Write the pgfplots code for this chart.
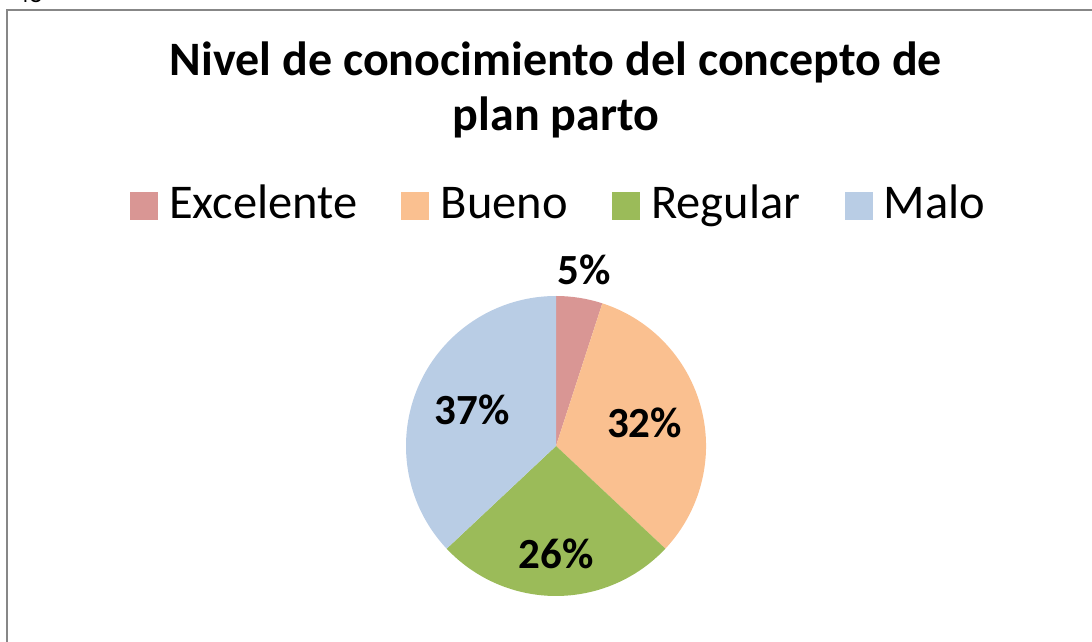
\documentclass[border=0pt]{standalone}
\usepackage{fontspec}
\setmainfont{Carlito}
\usepackage{pgfplots}
\usepackage{pgfplotstable}
\pgfplotsset{compat=1.18}

\definecolor{cExc}{HTML}{D99694}
\definecolor{cBue}{HTML}{FAC090}
\definecolor{cReg}{HTML}{9BBB59}
\definecolor{cMal}{HTML}{B9CDE5}
\definecolor{frame}{HTML}{878787}

% share of each answer, label radius (pie radius = 1)
\pgfplotstableread{
name      value col  lr
Excelente 5     cExc 1.19
Bueno     32    cBue 0.61
Regular   26    cReg 0.72
Malo      37    cMal 0.61
}\piedata

\newcommand\labfont{\fontsize{43}{50}\selectfont\bfseries}

\begin{document}
\begin{tikzpicture}
\useasboundingbox (0,0) rectangle (1092pt,642pt);
\clip (0,0) rectangle (1092pt,642pt);
\node[anchor=base west, inner sep=0pt, font=\fontsize{26}{30}\selectfont] at (16pt,639pt) {48};
\draw[frame, line width=2pt] (7pt,-5pt) -- (7pt,632pt) -- (1100pt,632pt);

\node[anchor=base, inner sep=0pt, font=\fontsize{48}{56}\selectfont\bfseries] at (556pt,566pt) {Nivel de conocimiento del concepto de};
\node[anchor=base, inner sep=0pt, font=\fontsize{48}{56}\selectfont\bfseries] at (556pt,511pt) {plan parto};

\begin{axis}[
    at={(406pt,46pt)}, anchor=south west,
    width=300pt, height=300pt, scale only axis,
    xmin=-1, xmax=1, ymin=-1, ymax=1,
    hide axis,
    clip=false,
    legend columns=4,
    legend image code/.code={\fill[#1] (0pt,-12.6pt) rectangle (27pt,14.4pt);},
    legend style={
        at={(0.525,1.297)}, anchor=center,
        draw=none, fill=none,
        font=\fontsize{48.5}{56}\selectfont,
        inner sep=0pt,
        nodes={inner xsep=12pt, inner ysep=0pt, text height=34pt, text depth=11pt},
        /tikz/every even column/.append style={column sep=32pt},
        /tikz/column 2/.style={column sep=43pt}
    }
]
\pgfplotstablegetrowsof{\piedata}
\pgfmathtruncatemacro\N{\pgfplotsretval-1}
\def\cum{0}
\pgfplotsforeachungrouped \i in {0,...,\N}{%
    \pgfplotstablegetelem{\i}{value}\of\piedata \let\v\pgfplotsretval
    \pgfplotstablegetelem{\i}{col}\of\piedata \let\c\pgfplotsretval
    \pgfplotstablegetelem{\i}{lr}\of\piedata \let\lr\pgfplotsretval
    \pgfmathsetmacro\a{90-3.6*\cum}
    \pgfmathsetmacro\b{90-3.6*(\cum+\v)}
    \pgfmathsetmacro\m{(\a+\b)/2}
    \edef\temp{%
        \noexpand\fill[\c] (axis cs:0,0) -- (axis cs:{cos(\a)},{sin(\a)})
            arc[start angle=\a, end angle=\b, radius=150pt] -- cycle;
        \noexpand\node[font=\noexpand\labfont] at (axis cs:{\lr*cos(\m)},{\lr*sin(\m)}) {\v\noexpand\%};
    }%
    \temp
    \pgfmathsetmacro\cum{\cum+\v}
}
\addlegendimage{cExc}
\addlegendimage{cBue}
\addlegendimage{cReg}
\addlegendimage{cMal}
\legend{Excelente, Bueno, Regular, Malo}
\end{axis}
\end{tikzpicture}
\end{document}
